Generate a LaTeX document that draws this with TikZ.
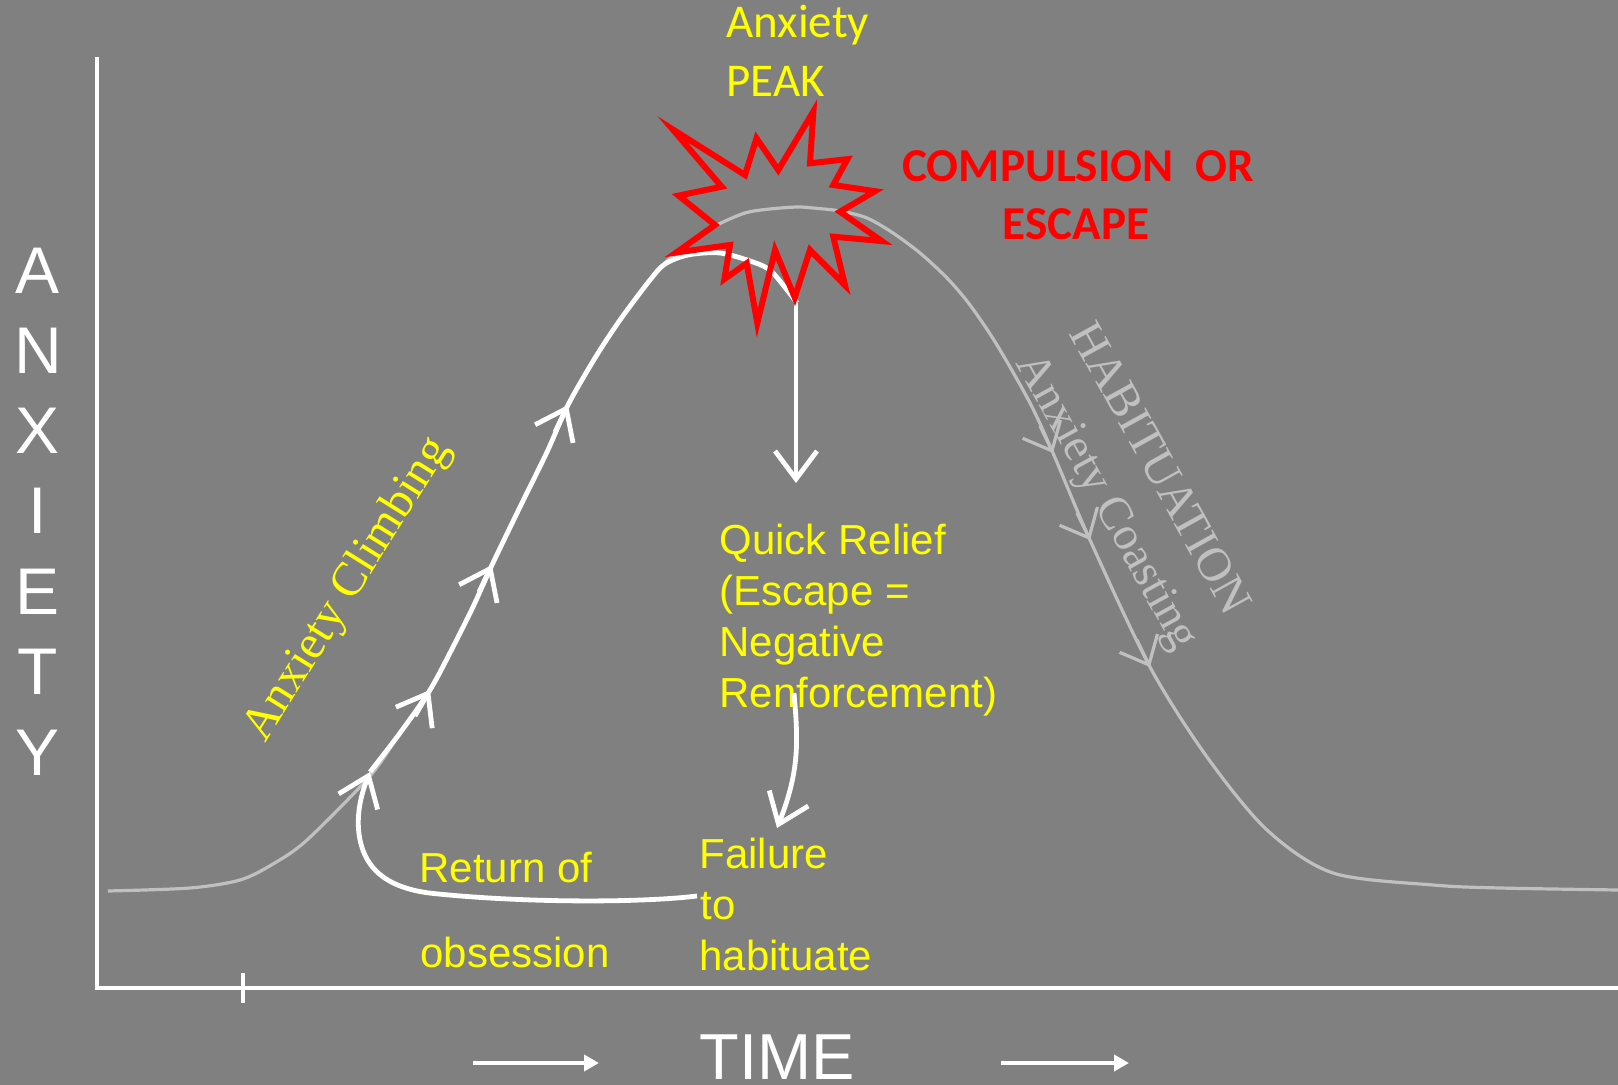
\documentclass[tikz,border=0pt]{standalone}
\usepackage{fontspec}
\setmainfont{Liberation Sans}
\newfontfamily\carlito{Carlito}
\newfontfamily\timesface{Liberation Serif}
\usetikzlibrary{arrows.meta}
\definecolor{slate}{HTML}{808080}
\definecolor{curvegray}{HTML}{C0C0C0}
\definecolor{hiyellow}{HTML}{FFFF00}
\definecolor{alarmred}{HTML}{FF0000}

\begin{document}
\begin{tikzpicture}[x=0.5pt,y=-0.5pt,
  axisline/.style={white, line width=2pt},
  bellcurve/.style={curvegray, line width=1.6pt, line join=round},
  pathline/.style={white, line width=2.4pt, line join=round},
  whitebarb/.style={-{Straight Barb[length=14pt,width=21pt]}},
  graybarb/.style={-{Straight Barb[length=12pt,width=21pt]}},
  timearrow/.style={white, line width=2pt, -{Triangle[length=7.5pt,width=8pt]}},
  burst/.style={alarmred, line width=3pt, line join=miter},
  yellowtext/.style={inner sep=0pt, anchor=base west, text=hiyellow,
    font=\fontsize{21}{25}\selectfont},
  peaktext/.style={inner sep=0pt, anchor=base west, text=hiyellow,
    font=\carlito\fontsize{23.5}{28}\selectfont},
  redtext/.style={inner sep=0pt, anchor=base, text=alarmred,
    font=\carlito\bfseries\fontsize{23.6}{28}\selectfont},
  slanttext/.style={inner sep=0pt, font=\timesface\fontsize{24}{28}\selectfont},
  axislabel/.style={inner sep=0pt, anchor=base, text=white,
    font=\fontsize{33}{38}\selectfont},
]
% canvas
\useasboundingbox (0,0) rectangle (1618,1085);
\fill[slate] (0,0) rectangle (1618,1085);

% axes and tick
\coordinate (ytop) at (97,57);
\coordinate (origin) at (97,988);
\coordinate (xend) at (1618,988);
\draw[axisline] (ytop) -- (origin) -- (xend);
\coordinate (tickhi) at (243,973);
\coordinate (ticklo) at (243,1003);
\draw[axisline] (tickhi) -- (ticklo);

% vertical axis label
\foreach \ch/\yb [count=\i] in {A/294,N/374,X/454,I/534,E/614,T/694,Y/775}
  \node[axislabel] (ylab\i) at (38,\yb) {\ch};

% time label and arrows
\node[axislabel, font=\fontsize{32.5}{38}\selectfont] (timelab) at (777,1079) {TIME};
\coordinate (ta1) at (473,1063);
\coordinate (tb1) at (599,1063);
\coordinate (ta2) at (1001,1063);
\coordinate (tb2) at (1129,1063);
\draw[timearrow] (ta1) -- (tb1);
\draw[timearrow] (ta2) -- (tb2);

% bell-shaped anxiety curve
\draw[bellcurve] plot[smooth, tension=0.5] coordinates {
  (108,891) (190,888) (240,880) (273,864) (307,840) (370,776) (400,733)
  (430,690) (453,647) (473,607) (492,565) (520,507) (547,452) (568,405)
  (595,358) (620,320) (650,280) (668,260) (690,242) (715,226) (745,213)
  (770,209) (797,207) (813,208) (840,211) (867,218) (893,233) (920,253)
  (947,278) (970,305) (997,345) (1030,403) (1053,453) (1090,540)
  (1150,667) (1207,757) (1267,830) (1333,873) (1433,885) (1500,888)
  (1618,890)};

% coasting arrows along the descending side
\coordinate (gt1) at (1053,453);
\coordinate (gt2) at (1090,540);
\coordinate (gt3) at (1150,667);
\draw[bellcurve, graybarb] (gt1) ++(-13,-27) -- (gt1);
\draw[bellcurve, graybarb] (gt2) ++(-13,-27) -- (gt2);
\draw[bellcurve, graybarb] (gt3) ++(-13,-27) -- (gt3);

% climbing path
\coordinate (wt1) at (370,772);
\coordinate (wt2) at (430,690);
\coordinate (wt3) at (492,565);
\coordinate (wt4) at (568,405);
\coordinate (wend) at (797,303);
\draw[pathline] plot[smooth, tension=0.5] coordinates {
  (wt1) (400,733) (wt2) (453,647) (473,607) (wt3) (520,507) (547,452)
  (wt4) (595,358) (620,320) (650,280) (665,264) (688,255) (720,253)
  (753,262) (772,272) (wend)};
\draw[pathline, whitebarb] (wt2) ++(-15,26) -- (wt2);
\draw[pathline, whitebarb] (wt3) ++(-13,27) -- (wt3);
\draw[pathline, whitebarb] (wt4) ++(-13,27) -- (wt4);

% texts
\node[peaktext] (peak1) at (726,38) {Anxiety};
\node[peaktext] (peak2) at (726,97) {PEAK};
\node[redtext] (comp1) at (1078,182) {COMPULSION\ \ OR};
\node[redtext] (comp2) at (1076,240) {ESCAPE};

\node[yellowtext] (relief1) at (719,555) {Quick Relief};
\node[yellowtext] (relief2) at (719,605) {(Escape =};
\node[yellowtext] (relief3) at (719,656) {Negative};
\node[yellowtext] (relief4) at (719,707) {Renforcement)};

\node[yellowtext] (fail1) at (699,868) {Failure};
\node[yellowtext] (fail2) at (700,919) {to};
\node[yellowtext] (fail3) at (699,970) {habituate};

\node[yellowtext] (ret1) at (419,882) {Return of};
\node[yellowtext] (ret2) at (420,967) {obsession};

\node[slanttext, text=hiyellow, rotate=58] (climb) at (348,590) {Anxiety Climbing};
\node[slanttext, text=curvegray, rotate=-61] (habit) at (1161,468) {HABITUATION};
\node[slanttext, text=curvegray, rotate=-61, font=\timesface\fontsize{23.5}{28}\selectfont] (coast) at (1105,503) {Anxiety Coasting};

% relief arrows
\coordinate (r1top) at (796,303);
\coordinate (r1tip) at (796,483);
\draw[pathline, whitebarb] (r1top) -- (r1tip);
\coordinate (r2top) at (794,693);
\coordinate (r2tip) at (777,828);
\draw[pathline, whitebarb] (r2top) .. controls (798,740) and (800,770) .. (r2tip);

% return loop back to the climb
\coordinate (retstart) at (697,896);
\draw[pathline, whitebarb] (retstart) .. controls (640,903) and (520,903) .. (429,893)
  .. controls (385,887) and (366,868) .. (360,840)
  .. controls (355,815) and (362,792) .. (wt1);

% peak burst (outer vertices set in so the mitred tips land on the spike ends)
\draw[burst] (813.4,111.4) -- (810,163.3) -- (847.4,159.2) -- (833.3,185)
  -- (875.0,191.2) -- (840,211.7) -- (881.7,241.1) -- (833.3,236.7)
  -- (845.0,285.3) -- (810,250) -- (794.7,297.5) -- (775,250)
  -- (757.3,323.2) -- (746.7,263.3) -- (724.4,279.1) -- (730,245)
  -- (676.3,252.5) -- (715,225) -- (678.5,195.6) -- (721.7,186.7)
  -- (672.6,129.3) -- (745,175) -- (756.5,138.3) -- (778.3,170) -- cycle;
\end{tikzpicture}
\end{document}
